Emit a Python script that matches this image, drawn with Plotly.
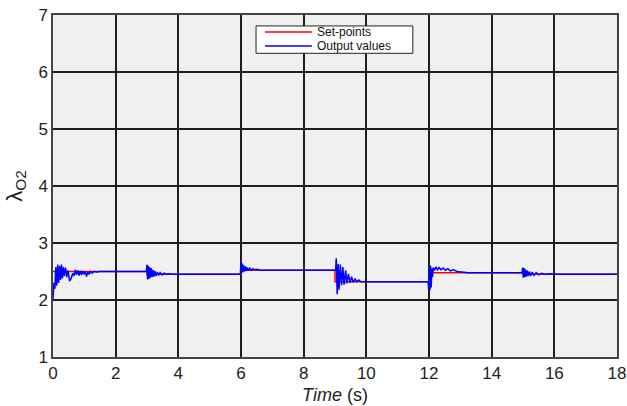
import plotly.graph_objects as go

# Set-point steps
sp_time = [0, 3, 3, 6, 6, 9, 9, 12, 12, 15, 15, 18]
sp_value = [2.50, 2.50, 2.45, 2.45, 2.52, 2.52, 2.32, 2.32, 2.48, 2.48, 2.45, 2.45]

# Output values
out_time = [
    0.00, 0.03, 0.06, 0.09, 0.12, 0.15, 0.18, 0.21, 0.24, 0.27, 0.30, 0.33, 0.36, 0.40, 0.44,
    0.48, 0.53, 0.58, 0.63, 0.67, 0.71, 0.75, 0.79, 0.83, 0.87, 0.91, 0.95, 0.99, 1.03, 1.07,
    1.11, 1.15, 1.20, 1.25, 1.30, 1.40, 1.50, 2.95,
    2.98, 3.00, 3.02, 3.04, 3.06, 3.08, 3.10, 3.13, 3.16, 3.19, 3.22, 3.25, 3.29, 3.33, 3.37,
    3.42, 3.48, 3.55, 3.62, 3.70, 3.80, 5.95,
    5.98, 6.00, 6.02, 6.04, 6.06, 6.08, 6.11, 6.14, 6.17, 6.20, 6.24, 6.28, 6.33, 6.38, 6.44,
    6.52, 6.62, 6.75, 9.00,
    9.02, 9.04, 9.07, 9.10, 9.13, 9.17, 9.21, 9.25, 9.29, 9.34, 9.38, 9.43, 9.48, 9.53, 9.58,
    9.64, 9.70, 9.76, 9.83, 9.95, 11.95,
    11.97, 11.99, 12.01, 12.03, 12.05, 12.07, 12.09, 12.11, 12.14, 12.18, 12.22, 12.27, 12.32,
    12.38, 12.45, 12.52, 12.60, 12.68, 12.78, 12.90, 13.05, 13.25, 14.95,
    14.97, 14.99, 15.01, 15.03, 15.05, 15.07, 15.10, 15.13, 15.16, 15.20, 15.24, 15.29, 15.35,
    15.42, 15.50, 15.60, 15.72, 15.85, 16.00, 18.00,
]
out_value = [
    2.00, 2.30, 2.20, 2.58, 2.25, 2.62, 2.30, 2.60, 2.35, 2.62, 2.38, 2.58, 2.42, 2.57, 2.40,
    2.52, 2.33, 2.38, 2.47, 2.42, 2.53, 2.44, 2.52, 2.43, 2.51, 2.44, 2.51, 2.45, 2.50, 2.41,
    2.49, 2.45, 2.50, 2.47, 2.50, 2.49, 2.50, 2.50,
    2.50, 2.62, 2.36, 2.60, 2.37, 2.58, 2.39, 2.56, 2.40, 2.53, 2.41, 2.51, 2.42, 2.49, 2.43,
    2.48, 2.44, 2.47, 2.45, 2.46, 2.45, 2.45,
    2.45, 2.66, 2.47, 2.64, 2.49, 2.61, 2.50, 2.59, 2.51, 2.57, 2.52, 2.56, 2.52, 2.55, 2.53,
    2.54, 2.52, 2.52, 2.52,
    2.52, 2.73, 2.10, 2.63, 2.18, 2.62, 2.26, 2.58, 2.27, 2.52, 2.29, 2.46, 2.30, 2.41, 2.31,
    2.37, 2.32, 2.35, 2.32, 2.32, 2.32,
    2.32, 2.18, 2.58, 2.17, 2.60, 2.22, 2.55, 2.40, 2.57, 2.52, 2.58, 2.53, 2.57,
    2.53, 2.56, 2.52, 2.55, 2.51, 2.53, 2.50, 2.49, 2.48, 2.48,
    2.48, 2.57, 2.39, 2.56, 2.40, 2.54, 2.41, 2.52, 2.42, 2.50, 2.42, 2.49, 2.43,
    2.48, 2.44, 2.47, 2.45, 2.46, 2.45, 2.45,
]

x_ticks = [0, 2, 4, 6, 8, 10, 12, 14, 16, 18]
y_ticks = [1, 2, 3, 4, 5, 6, 7]
series_names = ["Set-points", "Output values"]
series_colors = ["#ff0000", "#0000ff"]

font_family = "Liberation Sans, Arial, sans-serif"

fig = go.Figure()
fig.add_trace(go.Scatter(x=sp_time, y=sp_value, mode="lines", name=series_names[0],
                         line=dict(color=series_colors[0], width=1.5)))
fig.add_trace(go.Scatter(x=out_time, y=out_value, mode="lines", name=series_names[1],
                         line=dict(color=series_colors[1], width=1.5)))

# Compact legend box (drawn in paper coordinates)
shapes = [dict(type="rect", xref="paper", yref="paper", x0=0.360, x1=0.638, y0=0.888, y1=0.968,
               fillcolor="white", line=dict(color="#222222", width=1), layer="above")]
annotations = []
rows_y = [0.950, 0.909]
for name, color, yy in zip(series_names, series_colors, rows_y):
    shapes.append(dict(type="line", xref="paper", yref="paper", x0=0.376, x1=0.459, y0=yy, y1=yy,
                       line=dict(color=color, width=1.5), layer="above"))
    annotations.append(dict(xref="paper", yref="paper", x=0.466, y=yy, xanchor="left",
                            yanchor="middle", text=name, showarrow=False, borderpad=0,
                            font=dict(size=12, color="#111111")))

fig.update_layout(
    width=627, height=406,
    margin=dict(l=53, r=10, t=15, b=49, autoexpand=False),
    paper_bgcolor="white",
    plot_bgcolor="#f0f0f0",
    font=dict(family=font_family, color="#222222", size=17),
    showlegend=False,
    shapes=shapes,
    annotations=annotations,
    xaxis=dict(range=[0, 18], tickvals=x_ticks, showgrid=True, gridcolor="#1e1e1e",
               gridwidth=1.6, showline=True, linecolor="#444444", linewidth=1.5, mirror=True,
               zeroline=False, ticks="", ticklen=0, automargin=False,
               title=dict(text="<i>Time</i> (s)", font=dict(size=18), standoff=6)),
    yaxis=dict(range=[1, 7], tickvals=y_ticks, showgrid=True, gridcolor="#1e1e1e",
               gridwidth=1.6, showline=True, linecolor="#444444", linewidth=1.5, mirror=True,
               zeroline=False, ticks="", ticklen=0, automargin=False,
               title=dict(text="λ<sub>O2</sub>", font=dict(size=22), standoff=10)),
)

fig.write_html("out.html")
